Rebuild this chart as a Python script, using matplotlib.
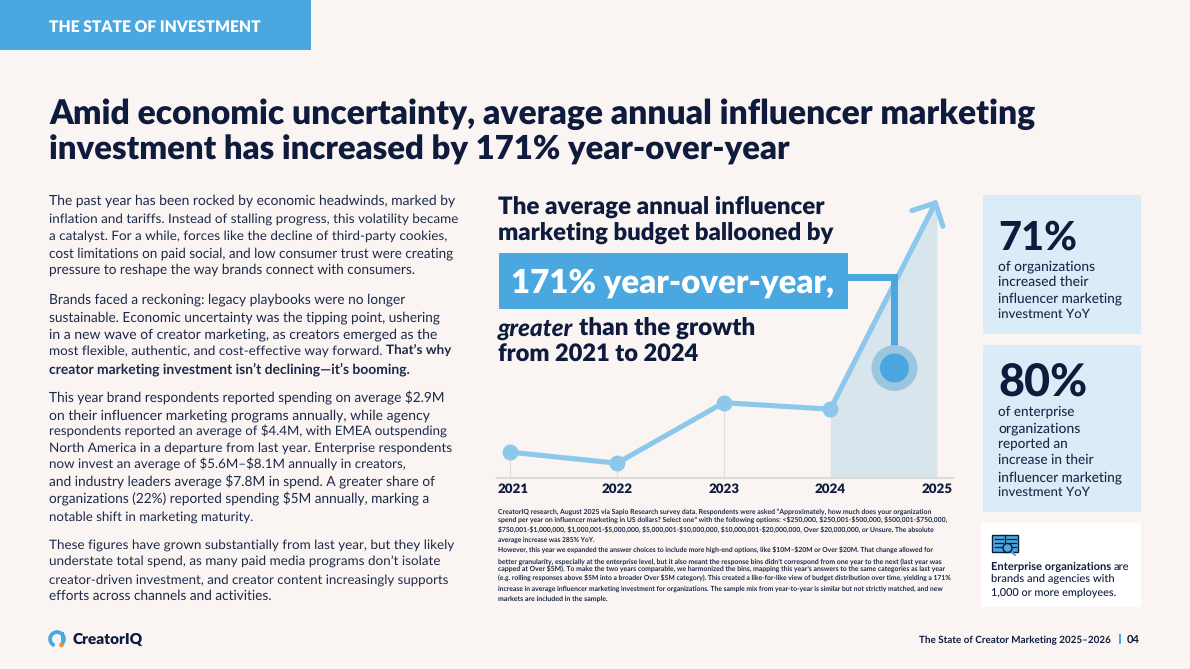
"""Recreate the CreatorIQ 'State of Investment' report page."""

import matplotlib
matplotlib.use("Agg")
import matplotlib.pyplot as plt
from matplotlib.patches import Circle, Rectangle, Wedge
from matplotlib.transforms import ScaledTranslation

plt.rcParams["font.family"] = ["Lato", "DejaVu Sans"]
plt.rcParams["text.parse_math"] = False
plt.rcParams["text.hinting"] = "no_hinting"

NAVY = "#0e1b3d"
BODY = "#1c2848"
BLUE = "#4aa7df"
LINE_BLUE = "#8cc8ec"
PAGE = "#faf5f3"

# chart data, budget as an index
YEARS = [2021, 2022, 2023, 2024, 2025]
BUDGET_INDEX = [25.5, 14.5, 75, 68.5, 278]

TITLE = [
    ("Amid economic uncertainty, average annual influencer marketing", 1035),
    ("investment has increased by 171% year-over-year", 788),
]
PARA_1 = [
    ("The past year has been rocked by economic headwinds, marked by", 452),
    ("inflation and tariffs. Instead of stalling progress, this volatility became", 458),
    ("a catalyst. For a while, forces like the decline of third-party cookies,", 447),
    ("cost limitations on paid social, and low consumer trust were creating", 455),
    ("pressure to reshape the way brands connect with consumers.", 416),
]
PARA_2 = [
    ("Brands faced a reckoning: legacy playbooks were no longer", 407),
    ("sustainable. Economic uncertainty was the tipping point, ushering", 439),
    ("in a new wave of creator marketing, as creators emerged as the", 439),
]
PARA_3 = [
    ("This year brand respondents reported spending on average $2.9M", 444),
    ("on their influencer marketing programs annually, while agency", 429),
    ("respondents reported an average of $4.4M, with EMEA outspending", 450),
    ("North America in a departure from last year. Enterprise respondents", 451),
    ("now invest an average of $5.6M–$8.1M annually in creators,", 404),
    ("and industry leaders average $7.8M in spend. A greater share of", 436),
    ("organizations (22%) reported spending $5M annually, marking a", 431),
    ("notable shift in marketing maturity.", 253),
]
PARA_4 = [
    ("These figures have grown substantially from last year, but they likely", 454),
    ("understate total spend, as many paid media programs don’t isolate", 441),
    ("creator-driven investment, and creator content increasingly supports", 447),
    ("efforts across channels and activities.", 272),
]
FOOTNOTE = [
    ("CreatorIQ research, August 2025 via Sapio Research survey data. Respondents were asked “Approximately, how much does your organization", 931),
    ("spend per year on influencer marketing in US dollars? Select one” with the following options: <$250,000, $250,001-$500,000, $500,001-$750,000,", 947),
    ("$750,001-$1,000,000, $1,000,001-$5,000,000, $5,000,001-$10,000,000, $10,000,001-$20,000,000, Over $20,000,000, or Unsure. The absolute", 940),
    ("average increase was 285% YoY.", 595),
    ("However, this year we expanded the answer choices to include more high-end options, like $10M–$20M or Over $20M. That change allowed for", 937),
    ("better granularity, especially at the enterprise level, but it also meant the response bins didn’t correspond from one year to the next (last year was", 939),
    ("capped at Over $5M). To make the two years comparable, we harmonized the bins, mapping this year’s answers to the same categories as last year", 946),
    ("(e.g. rolling responses above $5M into a broader Over $5M category). This created a like-for-like view of budget distribution over time, yielding a 171%", 948),
    ("increase in average influencer marketing investment for organizations. The sample mix from year-to-year is similar but not strictly matched, and new", 947),
    ("markets are included in the sample.", 607),
]
FOOTNOTE_Y = [514, 523, 532, 542, 553, 564, 572, 581, 591, 601]
CARD_1 = [
    ("of organizations", 1095),
    ("increased their", 1088),
    ("influencer marketing", 1122),
    ("investment YoY", 1090),
]
CARD_2 = [
    ("of enterprise", 1075),
    ("organizations", 1080),
    ("reported an", 1068),
    ("increase in their", 1094),
    ("influencer marketing", 1122),
    ("investment YoY", 1090),
]

fig = plt.figure(figsize=(11.9, 6.69), dpi=100, facecolor=PAGE)
renderer = fig.canvas.get_renderer()

# chart axes, placed in page pixels: 497-953 across, baseline at 477.7
ax = fig.add_axes([497 / 1190, 1 - 477.7 / 669, 456 / 1190, 287.7 / 669], zorder=1)
ax.patch.set_visible(False)
ax.set_xlim(2020.875, 2025.15)
ax.set_ylim(0, 287.7)

page = fig.add_axes([0, 0, 1, 1], zorder=2)
page.set_xlim(0, 1190)
page.set_ylim(669, 0)
page.axis("off")


def fit(x, y, runs, right, color=NAVY, gap=0.24, start=10.0):
    """Draw text runs on one baseline, sized so the line ends at right."""
    items = [page.text(x, y, s, color=color, fontsize=start, fontweight=w, fontstyle=st,
                       va="baseline", ha="left") for s, w, st in runs]
    size = start
    for _ in range(4):
        for t in items:
            t.set_fontsize(size)
        widths = [t.get_window_extent(renderer).width for t in items]
        space = gap * size * 100 / 72
        size *= (right - x) / (sum(widths) + space * (len(items) - 1))
    for t in items:
        t.set_fontsize(size)
    widths = [t.get_window_extent(renderer).width for t in items]
    space = gap * size * 100 / 72
    cur = x
    for t, w in zip(items, widths):
        t.set_x(cur)
        cur += w + space


def block(x, baselines, lines, weight="normal", color=BODY):
    for y, (s, right) in zip(baselines, lines):
        fit(x, y, [(s, weight, "normal")], right, color=color)


# line chart
ax.fill_between(YEARS[3:], [0, 0], BUDGET_INDEX[3:], color="#d8e5ec", lw=0, zorder=1)
ax.vlines(YEARS[:3], 0, BUDGET_INDEX[:3], color="#dfdedb", lw=0.8, zorder=1)
ax.plot(YEARS[:4], BUDGET_INDEX[:4], color=LINE_BLUE, lw=3.7, marker="o", ms=10.5,
        solid_capstyle="round", zorder=3)
ax.annotate("", xy=(YEARS[4], BUDGET_INDEX[4]), xytext=(YEARS[3], BUDGET_INDEX[3]),
            arrowprops=dict(arrowstyle="->,head_length=1.25,head_width=1.25", mutation_scale=10,
                            color=LINE_BLUE, lw=3.7, shrinkA=0, shrinkB=0,
                            capstyle="round", joinstyle="round"), zorder=3)
for side in ("top", "left", "right"):
    ax.spines[side].set_visible(False)
ax.spines["bottom"].set_color("#dddcd9")
ax.spines["bottom"].set_linewidth(1.5)
ax.set_yticks([])
ax.set_xticks(YEARS)
ax.set_xticklabels([str(y) for y in YEARS], fontsize=9.6, fontweight="heavy", color=NAVY)
ax.tick_params(axis="x", length=0, pad=4)
first = ax.get_xticklabels()[0]
first.set_transform(first.get_transform() + ScaledTranslation(2.5 / 100, 0, fig.dpi_scale_trans))

# header band
page.add_patch(Rectangle((0, 0), 311, 50, color=BLUE, lw=0))
fit(49, 32, [("THE STATE OF INVESTMENT", "heavy", "normal")], 261, color="white")

# title
block(49, [124, 160], TITLE, weight="heavy", color=NAVY)

# body copy
block(49, [205, 223, 240, 257, 274], PARA_1)
block(49, [303, 321, 338], PARA_2)
fit(49, 355, [("most flexible, authentic, and cost-effective way forward.", "normal", "normal"),
              ("That’s why", "bold", "normal")], 449, color=BODY)
fit(49, 373, [("creator marketing investment isn’t declining—it’s booming.", "bold", "normal")], 409,
    color=BODY)
block(49, [402, 419, 436, 452, 469, 486, 503, 521], PARA_3)
block(49, [549, 566, 584, 600], PARA_4)

# chart call-out
fit(498, 214, [("The average annual influencer", "heavy", "normal")], 824)
fit(498, 240, [("marketing budget ballooned by", "heavy", "normal")], 833)
page.add_patch(Rectangle((499, 253), 349, 56, color=BLUE, lw=0, zorder=2))
fit(511, 293, [("171% year-over-year,", "heavy", "normal")], 834, color="white")
fit(498, 336, [("greater", "black", "italic"), ("than the growth", "heavy", "normal")], 755)
fit(498, 362, [("from 2021 to 2024", "heavy", "normal")], 698)
page.add_patch(Rectangle((848, 274), 49, 7, color=BLUE, lw=0))
page.add_patch(Rectangle((890.5, 274), 7.5, 94, color=BLUE, lw=0))
page.add_patch(Circle((894.5, 368), 23, color="#9cc6df", lw=0, zorder=1))
page.add_patch(Circle((894.5, 368), 14.5, color=BLUE, lw=0, zorder=2))

# footnote
for y, (s, right) in zip(FOOTNOTE_Y, FOOTNOTE):
    fit(498, y, [(s, "bold", "normal")], right, color=BODY)

# stat cards
page.add_patch(Rectangle((983, 195), 158, 139, color="#daecf7", lw=0))
page.add_patch(Rectangle((983, 345), 158, 167, color="#daecf7", lw=0))
fit(998, 250, [("71%", "black", "normal")], 1077)
block(998, [270, 286, 302, 318], CARD_1, weight="medium")
fit(998, 396, [("80%", "black", "normal")], 1087)
block(998, [416, 432, 448, 464, 481, 496], CARD_2, weight="medium")

# enterprise note
page.add_patch(Rectangle((981, 523), 160, 84, color="white", lw=0))
page.add_patch(Rectangle((992, 535), 26, 17, facecolor=BLUE, edgecolor=NAVY, lw=1))
page.plot([1005, 1005], [535, 552], color=NAVY, lw=1)
for y in (539, 543, 547):
    page.plot([994.5, 1003], [y, y], color=NAVY, lw=0.9)
    page.plot([1007, 1016], [y, y], color=NAVY, lw=0.9)
page.add_patch(Circle((1007.5, 548), 4.5, facecolor=BLUE, edgecolor=NAVY, lw=1, zorder=4))
page.plot([1011, 1015], [551.5, 555], color=BLUE, lw=1.4)
fit(991, 570, [("Enterprise organizations", "bold", "normal"), ("are", "medium", "normal")], 1129)
fit(991, 582, [("brands and agencies with", "medium", "normal")], 1115)
fit(991, 596, [("1,000 or more employees.", "medium", "normal")], 1117)

# logo and footer
page.add_patch(Wedge((57, 639), 8.8, 110, 50, width=3.8, color=BLUE, lw=0))
page.add_patch(Rectangle((61, 632), 2.6, 9, color=BLUE, lw=0))
page.add_patch(Circle((61.5, 645), 2.3, color="#f08a3c", lw=0))
fit(73, 644, [("CreatorIQ", "heavy", "normal")], 143)
fit(919, 643, [("The State of Creator Marketing 2025–2026", "bold", "normal")], 1112)
page.add_patch(Rectangle((1119, 634), 1.6, 10, color=BLUE, lw=0))
fit(1127, 643, [("04", "bold", "normal")], 1140)

fig.savefig("out.png", dpi=100, facecolor=PAGE)
